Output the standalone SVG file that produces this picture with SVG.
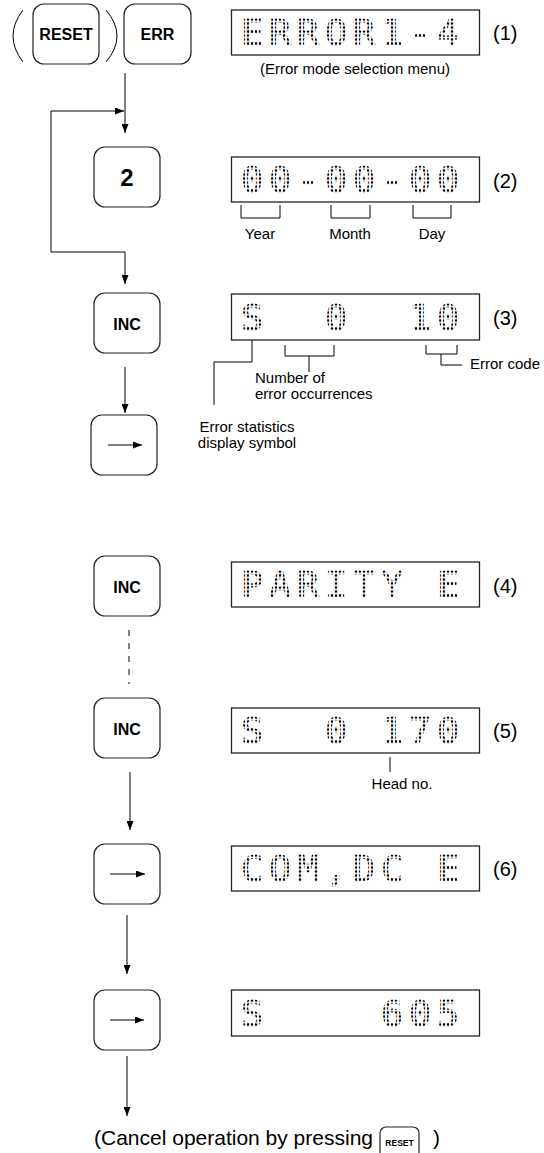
<svg xmlns="http://www.w3.org/2000/svg" width="544" height="1153" viewBox="0 0 544 1153">
<defs>
<pattern id="dots" x="-2" y="-3.5" width="4" height="4" patternUnits="userSpaceOnUse"><circle cx="2" cy="2" r="1.25" fill="#000"/></pattern>
<marker id="ah" markerWidth="9" markerHeight="7" refX="9" refY="3.5" orient="auto" markerUnits="userSpaceOnUse"><path d="M0,0 L9,3.5 L0,7 z" fill="#000"/></marker>
<style>
.key{fill:#fff;stroke:#222;stroke-width:1.2}
.disp{fill:#fff;stroke:#222;stroke-width:1.3}
.lcd{font-family:"DejaVu Sans Mono",monospace;font-size:36px;fill:url(#dots);stroke:url(#dots);stroke-width:1.2;text-anchor:middle;white-space:pre}
.lbl{font-family:"Liberation Sans",Arial,sans-serif;font-size:15px;fill:#000}
.num{font-family:"Liberation Sans",Arial,sans-serif;font-size:20px;fill:#000}
.big{font-family:"Liberation Sans",Arial,sans-serif;font-size:21px;fill:#000}
.kt{font-family:"Liberation Sans",Arial,sans-serif;font-weight:bold;font-size:16px;fill:#000;text-anchor:middle}
.c{stroke:#000;stroke-width:1;fill:none}
.mid{text-anchor:middle}
</style>
</defs>
<rect width="544" height="1153" fill="#fff"/>

<g id="connectors">
<path class="c" d="M125,73 L125,133" marker-end="url(#ah)"/>
<path class="c" d="M51,252 L51,111 L124,111" marker-end="url(#ah)"/>
<path class="c" d="M51,252 L125,252 L125,284" marker-end="url(#ah)"/>
<path class="c" d="M125,367 L125,413" marker-end="url(#ah)"/>
<path class="c" d="M129,630 L129,684" stroke-dasharray="6 7"/>
<path class="c" d="M130,772 L130,830" marker-end="url(#ah)"/>
<path class="c" d="M127,915 L127,974" marker-end="url(#ah)"/>
<path class="c" d="M127,1056 L127,1116" marker-end="url(#ah)"/>
</g>

<g id="key-reset">
<path class="c" d="M23,10 Q3,36 23,62"/>
<rect class="key" x="33" y="4" width="66" height="60" rx="11"/>
<text class="kt" x="66" y="40">RESET</text>
<path class="c" d="M106,10 Q128,36 106,62"/>
</g>
<g id="key-err">
<rect class="key" x="124" y="4" width="67" height="60" rx="11"/>
<text class="kt" x="157.5" y="40">ERR</text>
</g>
<g id="display-1">
<rect class="disp" x="231.5" y="10" width="248" height="45"/>
<g transform="translate(0,45)"><text class="lcd" xml:space="preserve" x="252 280 308 336 364 392 420 448" y="0">ERROR1-4</text></g>
<text class="num" x="493" y="40">(1)</text>
<text class="lbl mid" x="355" y="74">(Error mode selection menu)</text>
</g>

<g id="key-2">
<rect class="key" x="94" y="147" width="66" height="60" rx="11"/>
<text class="kt" x="127" y="186" style="font-size:24px">2</text>
</g>
<g id="display-2">
<rect class="disp" x="231.5" y="157" width="248" height="45"/>
<g transform="translate(0,192)"><text class="lcd" xml:space="preserve" x="252 280 308 336 364 392 420 448" y="0">00-00-00</text></g>
<text class="num" x="493" y="188">(2)</text>
<path class="c" d="M241,205 L241,218 L280,218 L280,205 M331,205 L331,218 L370,218 L370,205 M413,205 L413,218 L451,218 L451,205"/>
<text class="lbl mid" x="260" y="239">Year</text>
<text class="lbl mid" x="350" y="239">Month</text>
<text class="lbl mid" x="432" y="239">Day</text>
</g>

<g id="key-inc-1">
<rect class="key" x="94" y="293" width="66" height="60" rx="11"/>
<text class="kt" x="127" y="330">INC</text>
</g>
<g id="display-3">
<rect class="disp" x="231.5" y="294" width="248" height="46"/>
<g transform="translate(0,330)"><text class="lcd" xml:space="preserve" x="252 280 308 336 364 392 420 448" y="0">S  0  10</text></g>
<text class="num" x="493" y="325">(3)</text>
<path class="c" d="M252,340 L252,362 L214,362 L214,405"/>
<path class="c" d="M285,345 L285,356 L334,356 L334,345 M309,356 L309,372"/>
<path class="c" d="M426,345 L426,354 L457,354 L457,345 M441,354 L441,365 L462,365"/>
<text class="lbl" x="470" y="369">Error code</text>
<text class="lbl" x="255" y="383">Number of</text>
<text class="lbl" x="255" y="399">error occurrences</text>
<text class="lbl mid" x="247" y="432">Error statistics</text>
<text class="lbl mid" x="247" y="448">display symbol</text>
</g>

<g id="key-right-1">
<rect class="key" x="91" y="415" width="66" height="60" rx="11"/>
<path class="c" d="M108,445 L142,445" marker-end="url(#ah)"/>
</g>

<g id="key-inc-2">
<rect class="key" x="94" y="556" width="66" height="60" rx="11"/>
<text class="kt" x="127" y="593">INC</text>
</g>
<g id="display-4">
<rect class="disp" x="231.5" y="562" width="248" height="45"/>
<g transform="translate(0,597)"><text class="lcd" xml:space="preserve" x="252 280 308 336 364 392 420 448" y="0">PARITY E</text></g>
<text class="num" x="493" y="593">(4)</text>
</g>

<g id="key-inc-3">
<rect class="key" x="94" y="698" width="66" height="60" rx="11"/>
<text class="kt" x="127" y="735">INC</text>
</g>
<g id="display-5">
<rect class="disp" x="231.5" y="708" width="248" height="45"/>
<g transform="translate(0,743)"><text class="lcd" xml:space="preserve" x="252 280 308 336 364 392 420 448" y="0">S  0 170</text></g>
<text class="num" x="493" y="738">(5)</text>
<path class="c" d="M390,757 L390,772"/>
<text class="lbl mid" x="402" y="789">Head no.</text>
</g>

<g id="key-right-2">
<rect class="key" x="94" y="844" width="66" height="60" rx="11"/>
<path class="c" d="M110,874 L145,874" marker-end="url(#ah)"/>
</g>
<g id="display-6">
<rect class="disp" x="231.5" y="846" width="248" height="45"/>
<g transform="translate(0,881)"><text class="lcd" xml:space="preserve" x="252 280 308 336 364 392 420 448" y="0">COM,DC E</text></g>
<text class="num" x="493" y="876">(6)</text>
</g>

<g id="key-right-3">
<rect class="key" x="94" y="990" width="66" height="60" rx="11"/>
<path class="c" d="M110,1020 L144,1020" marker-end="url(#ah)"/>
</g>
<g id="display-7">
<rect class="disp" x="231.5" y="990" width="248" height="46"/>
<g transform="translate(0,1026)"><text class="lcd" xml:space="preserve" x="252 280 308 336 364 392 420 448" y="0">S    605</text></g>
</g>

<g id="cancel-note">
<text class="big" x="94" y="1145">(Cancel operation by pressing</text>
<rect class="key" x="380" y="1127" width="39" height="36" rx="6"/>
<text class="kt" x="399.5" y="1146" style="font-size:8.5px">RESET</text>
<text class="big" x="433" y="1145">)</text>
</g>
</svg>
